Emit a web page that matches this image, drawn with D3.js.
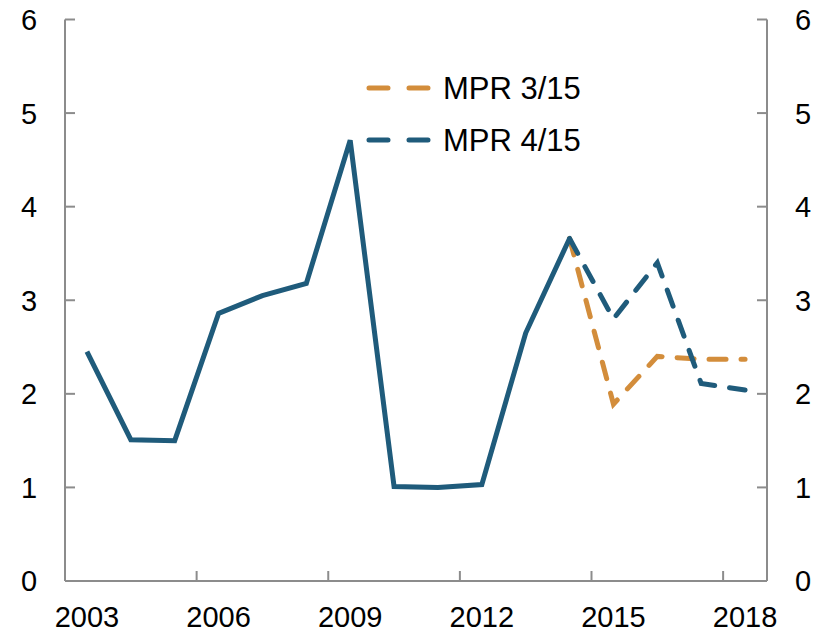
<!DOCTYPE html>
<html><head><meta charset="utf-8">
<script src="https://cdn.jsdelivr.net/npm/d3@7"></script>
<style>body{margin:0;background:#fff}svg{display:block}text{font-family:"Liberation Sans",Arial,sans-serif;fill:#000}</style>
</head><body>
<svg id="c" width="823" height="634"></svg>
<script>
const years = [2003,2004,2005,2006,2007,2008,2009,2010,2011,2012,2013,2014,2015,2016,2017,2018];
const actual = [2.45,1.51,1.50,2.86,3.05,3.18,4.71,1.01,1.00,1.03,2.65,3.66];
const mpr315Years = [2014,2015,2016,2017,2018];
const mpr315 = [3.66,1.89,2.40,2.37,2.37];
const mpr415Years = [2014,2015,2016,2017,2018];
const mpr415 = [3.66,2.80,3.40,2.11,2.04];
const yTicks = [0,1,2,3,4,5,6];
const xTickLabels = [2003,2006,2009,2012,2015,2018];
const seriesNames = ["MPR 3/15","MPR 4/15"];

const blue = "#1f5b7b", orange = "#d38d3b", axisCol = "#8c8c8c";
const svg = d3.select("#c");
const L = 65, R = 767, T = 19.5, B = 581;
const x = d3.scaleBand().domain(years).range([L, R]);
const y = d3.scaleLinear().domain([0, 6]).range([B, T]);
const cx = d => x(d) + x.bandwidth()/2;
const FS = 29;

const g = svg.append("g");
g.append("line").attr("x1",L).attr("x2",R).attr("y1",B).attr("y2",B).attr("stroke",axisCol).attr("stroke-width",2);
g.append("line").attr("x1",L).attr("x2",L).attr("y1",T).attr("y2",B).attr("stroke",axisCol).attr("stroke-width",2);
g.append("line").attr("x1",R).attr("x2",R).attr("y1",T).attr("y2",B).attr("stroke",axisCol).attr("stroke-width",2);
g.append("line").attr("x1",L).attr("x2",L+10).attr("y1",T).attr("y2",T).attr("stroke",axisCol).attr("stroke-width",2);
g.append("line").attr("x1",R-10).attr("x2",R).attr("y1",T).attr("y2",T).attr("stroke",axisCol).attr("stroke-width",2);

yTicks.forEach(v => {
  if (v > 0 && v < 6) {
    g.append("line").attr("x1",L).attr("x2",L+10).attr("y1",y(v)).attr("y2",y(v)).attr("stroke",axisCol).attr("stroke-width",2);
    g.append("line").attr("x1",R-10).attr("x2",R).attr("y1",y(v)).attr("y2",y(v)).attr("stroke",axisCol).attr("stroke-width",2);
  }
  g.append("text").attr("x",29).attr("y",y(v)).attr("dy","0.36em").attr("text-anchor","middle").attr("font-size",FS).text(v);
  g.append("text").attr("x",803).attr("y",y(v)).attr("dy","0.36em").attr("text-anchor","middle").attr("font-size",FS).text(v);
});
xTickLabels.forEach(v => {
  if (v !== 2003) g.append("line").attr("x1",x(v)).attr("x2",x(v)).attr("y1",B).attr("y2",B-10).attr("stroke",axisCol).attr("stroke-width",2);
  g.append("text").attr("x",cx(v)).attr("y",627).attr("text-anchor","middle").attr("font-size",FS).text(v);
});

const line = d3.line().x(d => cx(d[0])).y(d => y(d[1]));
const dash = "17,15";
svg.append("path").datum(mpr315Years.map((yr,i)=>[yr,mpr315[i]])).attr("d",line)
  .attr("fill","none").attr("stroke",orange).attr("stroke-width",5).attr("stroke-dasharray",dash).attr("stroke-linecap","round");
svg.append("path").datum(mpr415Years.map((yr,i)=>[yr,mpr415[i]])).attr("d",line)
  .attr("fill","none").attr("stroke",blue).attr("stroke-width",5).attr("stroke-dasharray",dash).attr("stroke-linecap","round");
svg.append("path").datum(actual.map((v,i)=>[years[i],v])).attr("d",line)
  .attr("fill","none").attr("stroke",blue).attr("stroke-width",5).attr("stroke-linejoin","miter");

const legCols = [orange, blue];
seriesNames.forEach((n,i) => {
  const ly = 88 + i*52;
  svg.append("line").attr("x1",369).attr("x2",428).attr("y1",ly).attr("y2",ly)
    .attr("stroke",legCols[i]).attr("stroke-width",5).attr("stroke-dasharray","19,21").attr("stroke-linecap","round");
  svg.append("text").attr("x",443).attr("y",ly).attr("dy","0.36em").attr("font-size",31).text(n);
});
</script>
</body></html>
